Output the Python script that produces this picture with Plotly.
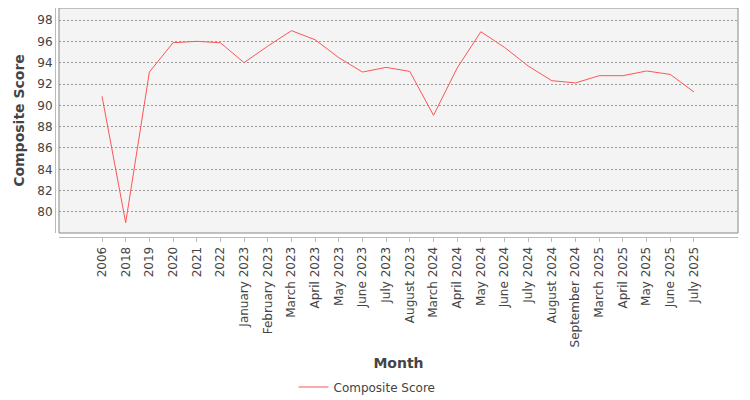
import plotly.graph_objects as go

# categories on the x axis (month / year labels as shown)
months = ['2006', '2018', '2019', '2020', '2021', '2022',
          'January 2023', 'February 2023', 'March 2023', 'April 2023',
          'May 2023', 'June 2023', 'July 2023', 'August 2023',
          'March 2024', 'April 2024', 'May 2024', 'June 2024',
          'July 2024', 'August 2024', 'September 2024',
          'March 2025', 'April 2025', 'May 2025', 'June 2025', 'July 2025']

# composite score
composite_score = [90.85, 79.0, 93.12, 95.87, 96.0, 95.87,
                   94.0, 95.55, 97.0, 96.15,
                   94.47, 93.12, 93.56, 93.18,
                   89.06, 93.5, 96.9, 95.43,
                   93.69, 92.31, 92.1,
                   92.78, 92.78, 93.22, 92.9, 91.25]

y_ticks = [80, 82, 84, 86, 88, 90, 92, 94, 96, 98]

font_name = 'DejaVu Sans'
text_grey = '#444444'

fig = go.Figure()
fig.add_trace(go.Scatter(x=months, y=composite_score, mode='lines',
                         name='Composite Score',
                         line=dict(color='#FF5555', width=1)))

# the html page has an 8px body margin, so the figure is 8px smaller
# plot area 51..730 x 0..225 in figure px, axes offset by 4px
fig.update_layout(
    width=742, height=392,
    margin=dict(l=47, r=12, t=0, b=163, autoexpand=False),
    paper_bgcolor='white',
    plot_bgcolor='#F4F4F4',
    font=dict(family=font_name, size=12, color=text_grey),
    showlegend=True,
    legend=dict(orientation='h', xref='container', yref='container',
                x=359 / 742, xanchor='center', y=1 - 379 / 392, yanchor='middle',
                font=dict(size=12, color=text_grey),
                itemwidth=30, bgcolor='rgba(0,0,0,0)'),
)

fig.update_xaxes(
    type='category',
    domain=[4 / 683, 1],
    anchor='free', position=0,
    range=[-1.816, 26.86],
    showgrid=False, zeroline=False,
    showline=True, linecolor='#BBBBBB', linewidth=1,
    ticks='outside', ticklen=4, tickcolor='#BBBBBB', tickwidth=1,
    tickangle=-90,
    tickfont=dict(size=12, color=text_grey),
    title=dict(text='<b>Month</b>', font=dict(size=14, color=text_grey),
               standoff=11),
    automargin=False,
)

fig.update_yaxes(
    domain=[4 / 229, 1],
    anchor='free', position=0,
    range=[78.03, 99.125],
    tickvals=y_ticks,
    showgrid=True, gridcolor='#999999', gridwidth=1, griddash='2px,2px',
    zeroline=False,
    showline=True, linecolor='#BBBBBB', linewidth=1,
    ticks='',
    tickfont=dict(size=12, color=text_grey),
    title=dict(text='<b>Composite Score</b>', font=dict(size=14, color=text_grey),
               standoff=8),
    automargin=False,
)

# plot border
fig.add_shape(type='rect', xref='x domain', yref='y domain',
              x0=0, x1=1, y0=0, y1=1,
              line=dict(color='#888888', width=1), layer='above')

fig.write_html("out.html")
